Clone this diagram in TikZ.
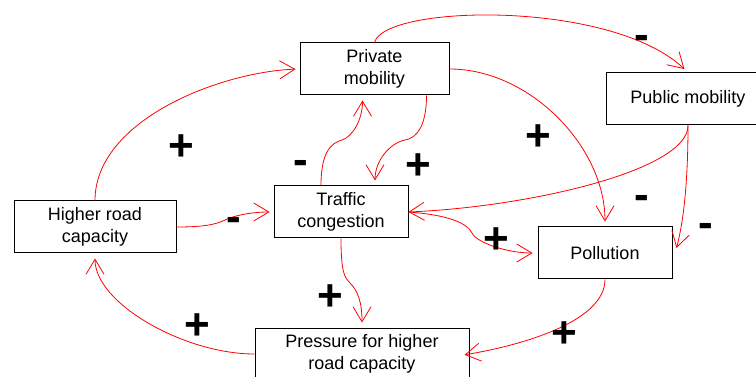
\documentclass[tikz,border=0pt]{standalone}
\usepackage{fontspec}
\setmainfont{Liberation Sans}
\usetikzlibrary{arrows.meta}

\begin{document}
\begin{tikzpicture}[x=1pt,y=-1pt,
	box/.style={draw,line width=1pt,fill=white,align=center,minimum height=52pt,inner sep=0pt,font=\fontsize{18}{21.6}\selectfont},
	link/.style={red,line width=0.8pt,-{Straight Barb[length=15pt,width=18pt]},shorten >=4pt},
	sign/.style={font=\fontsize{44}{44}\selectfont\bfseries,inner sep=0pt}]
	\useasboundingbox (0,0) rectangle (756,377);
	\clip (0,0) rectangle (756,377);
	\node[box,minimum width=149pt] (priv) at (374.5,69) {Private\\mobility};
	\node[box,minimum width=164pt] (pub) at (688,99) {Public mobility};
	\node[box,minimum width=162pt] (road) at (95,227) {Higher road\\capacity};
	\node[box,minimum width=134pt] (cong) at (341,212) {Traffic\\congestion};
	\node[box,minimum width=134pt] (poll) at (605,253) {Pollution};
	\node[box,minimum width=214pt] (press) at (362,354) {Pressure for higher\\road capacity};
	% causal links
	\draw[link] (road.north) .. controls +(0,-80) and +(-80,3) .. (priv.west);
	\draw[link] (road.east) .. controls +(25,0) and +(-10,5) .. (225,220) .. controls +(10,-5) and +(-20,0) .. (cong.west);
	\draw[link,shorten >=5pt] ([xshift=-20pt]cong.north) .. controls +(0,-35) and +(-10,3) .. (342,140) .. controls +(10,-3) and +(0,25) .. ([xshift=-12pt]priv.south);
	\draw[link,shorten >=5pt] ([xshift=52pt]priv.south) .. controls +(0,30) and +(12,-2) .. (405,140) .. controls +(-15,3) and +(0,-25) .. ([xshift=34pt]cong.north);
	\draw[link,shorten >=5pt] (priv.north) .. controls +(10,-38) and +(-77,-73) .. (pub.north);
	\draw[link,shorten >=5pt] (priv.east) .. controls +(80,0) and +(0,-80) .. (poll.north);
	\draw[link,shorten >=0pt] (pub.south) .. controls +(0,45) and +(120,-5) .. (cong.east);
	\draw[link,shorten >=0pt] (pub.south) .. controls +(0,50) and +(8,-30) .. ([xshift=4pt,yshift=5pt]poll.east);
	\draw[link,shorten >=5pt] (cong.east) .. controls +(40,3) and +(-5,-10) .. (472,233) .. controls +(5,10) and +(-30,0) .. (poll.west);
	\draw[link,shorten >=5pt] (cong.south) .. controls +(0,35) and +(-5,-5) .. (350,283) .. controls +(8,8) and +(0,-25) .. (press.north);
	\draw[link,shorten >=-5pt] (poll.south) .. controls +(0,40) and +(60,-10) .. (press.east);
	\draw[link,shorten >=5pt] (press.west) .. controls +(-70,0) and +(0,50) .. (road.south);
	% signs
	\foreach \x/\y/\s [count=\i] in {181/148/+,418/167/+,538/138/+,496/241/+,330/298/+,564/335/+,197/327/+,
		301/167/-,234/224/-,642/42/-,642/202/-,706/230/-}
		\node[sign] (sign\i) at (\x,\y) {\s};
\end{tikzpicture}
\end{document}
